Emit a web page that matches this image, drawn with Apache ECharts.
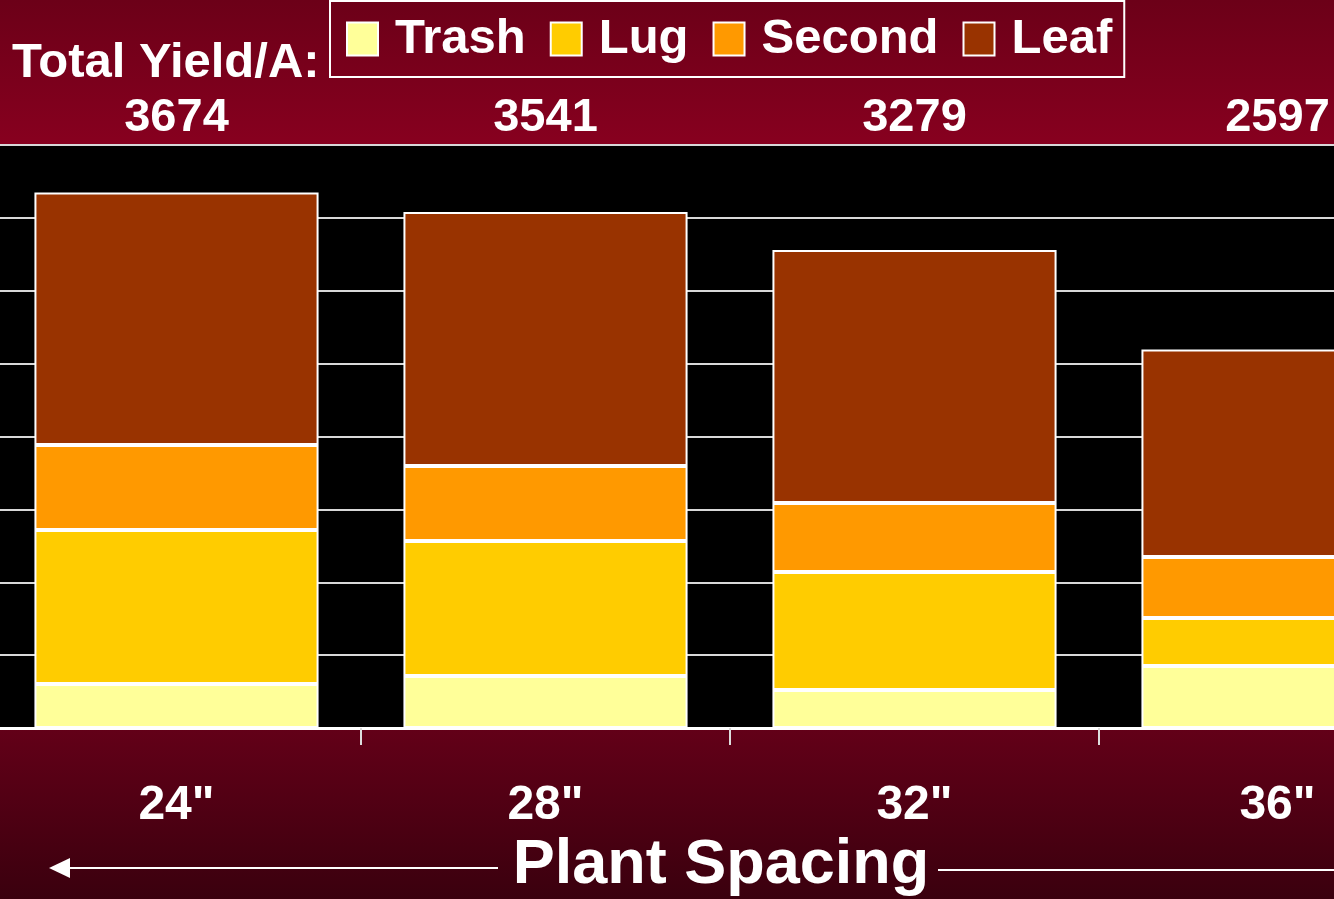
<!DOCTYPE html>
<html>
<head>
<meta charset="utf-8">
<title>Total Yield/A by Plant Spacing</title>
<script src="https://cdn.jsdelivr.net/npm/echarts@6/dist/echarts.min.js"></script>
<style>
html, body {
  margin: 0;
  padding: 0;
  background: #000;
}
#chart {
  width: 1334px;
  height: 899px;
}
</style>
</head>
<body>
<div id="chart"></div>
<script>
// data (lb/A)
let spacing = ['24"', '28"', '32"', '36"']
let totals = [3674, 3541, 3279, 2597]
let trash = [302, 357, 261, 425]
let lug = [1056, 926, 809, 330]
let second = [584, 514, 474, 418]
let leaf = [1732, 1744, 1735, 1424]

let font = 'Liberation Sans, Arial, sans-serif'

let myChart = echarts.init(document.getElementById('chart'))

let makeSeries = (name, data, color) => {
  return {
    name: name,
    type: 'bar',
    stack: 'total',
    data: data,
    barWidth: '77%',
    itemStyle: {
      color: color,
      borderColor: '#fff',
      borderWidth: 2
    }
  }
}

// last label sits against the page edge, nudge it left a little
let edgeLabel = (value, index) => {
  return index === spacing.length - 1 ? '{last|' + value + '}' : value
}

let option = {
  animation: false,
  backgroundColor: {
    type: 'linear',
    x: 0, y: 0, x2: 0, y2: 1,
    colorStops: [
      { offset: 0, color: '#6c0018' },
      { offset: 0.16, color: '#87001f' },
      { offset: 0.81, color: '#630018' },
      { offset: 1, color: '#3a000e' }
    ]
  },
  textStyle: {
    fontFamily: font
  },
  legend: {
    left: 330,
    top: 1,
    itemWidth: 31,
    itemHeight: 33,
    itemGap: 24,
    padding: [11, 12, 11, 16],
    borderColor: '#fff',
    borderWidth: 2,
    icon: 'rect',
    textStyle: {
      color: '#fff',
      fontSize: 49,
      fontWeight: 'bold',
      lineHeight: 46,
      padding: [8, 0, 0, 12]
    },
    data: ['Trash', 'Lug', 'Second', 'Leaf']
  },
  grid: {
    // the last category runs off the right edge, as in the original slide
    left: -8,
    right: -134,
    top: 145,
    bottom: 171,
    outerBoundsMode: 'none',
    containLabel: false,
    show: true,
    backgroundColor: '#000',
    borderWidth: 0
  },
  xAxis: [
    {
      type: 'category',
      data: spacing,
      axisLine: {
        lineStyle: { color: '#fff', width: 3 }
      },
      axisTick: {
        show: true,
        length: 17,
        lineStyle: { color: '#ddd', width: 2 }
      },
      axisLabel: {
        color: '#fff',
        fontSize: 48,
        fontWeight: 'bold',
        margin: 54,
        formatter: edgeLabel,
        rich: {
          last: {
            color: '#fff',
            fontSize: 48,
            fontWeight: 'bold',
            padding: [0, 12, 0, 0]
          }
        }
      }
    },
    {
      type: 'category',
      position: 'top',
      data: totals,
      axisLine: { show: false },
      axisTick: { show: false },
      axisLabel: {
        color: '#fff',
        fontSize: 47,
        fontWeight: 'bold',
        margin: 3,
        formatter: edgeLabel,
        rich: {
          last: {
            color: '#fff',
            fontSize: 47,
            fontWeight: 'bold',
            padding: [0, 12, 0, 0]
          }
        }
      }
    }
  ],
  yAxis: {
    type: 'value',
    min: 0,
    max: 4000,
    interval: 500,
    axisLine: { show: false },
    axisTick: { show: false },
    axisLabel: { show: false },
    splitLine: {
      lineStyle: { color: '#d8d8d8', width: 2 }
    }
  },
  series: [
    makeSeries('Trash', trash, '#ffff99'),
    makeSeries('Lug', lug, '#ffcc00'),
    makeSeries('Second', second, '#ff9900'),
    makeSeries('Leaf', leaf, '#993300')
  ],
  graphic: [
    {
      type: 'text',
      left: 12,
      top: 39,
      style: {
        text: 'Total Yield/A:',
        fill: '#fff',
        font: 'bold 49px ' + font
      }
    },
    {
      type: 'text',
      x: 721,
      y: 866,
      style: {
        text: 'Plant Spacing',
        fill: '#fff',
        font: 'bold 63px ' + font,
        align: 'center',
        verticalAlign: 'middle'
      }
    },
    {
      // arrow pointing left from the title
      type: 'line',
      shape: { x1: 66, y1: 868, x2: 498, y2: 868 },
      style: { stroke: '#fff', lineWidth: 2 }
    },
    {
      type: 'polygon',
      shape: { points: [[49, 868], [70, 858], [70, 878]] },
      style: { fill: '#fff' }
    },
    {
      type: 'line',
      shape: { x1: 938, y1: 870, x2: 1334, y2: 870 },
      style: { stroke: '#fff', lineWidth: 2 }
    }
  ]
}

myChart.setOption(option)
</script>
</body>
</html>
